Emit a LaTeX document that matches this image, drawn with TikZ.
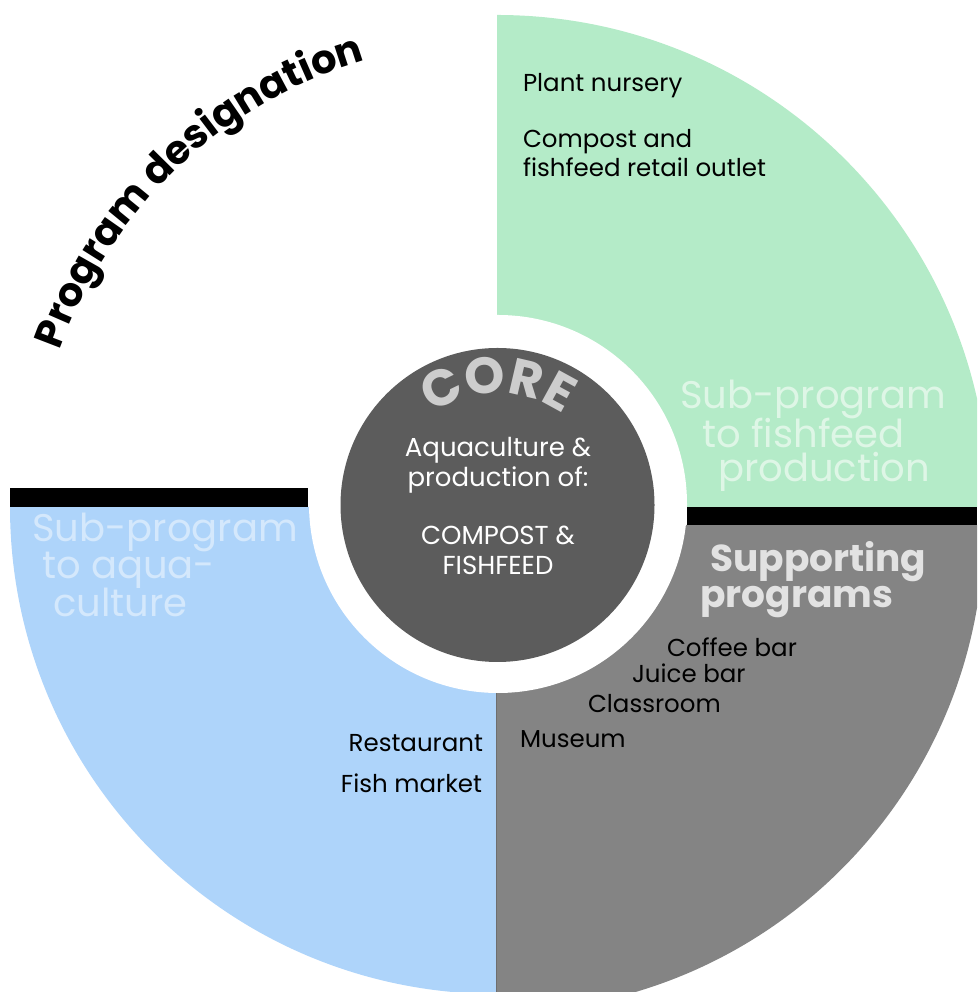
\documentclass[tikz,border=0pt]{standalone}
\usepackage{fontspec}
\setmainfont{Poppins}
\usetikzlibrary{decorations.text}
\definecolor{gfill}{RGB}{180,235,200}
\definecolor{bfill}{RGB}{174,212,250}
\definecolor{sfill}{RGB}{132,132,132}
\definecolor{corefill}{RGB}{92,92,92}
\definecolor{coretxt}{RGB}{205,205,205}
\definecolor{gtxt}{RGB}{222,246,230}
\definecolor{btxt}{RGB}{212,232,252}
\definecolor{stxt}{RGB}{226,226,226}
\tikzset{
  lbl/.style={inner sep=0pt, outer sep=0pt, text=black, font=\fontsize{24.5}{24.5}\selectfont},
  corelbl/.style={inner sep=0pt, text=white, font=\fontsize{26}{26}\selectfont, anchor=base},
  subttl/.style={inner sep=0pt, anchor=base west, font=\fontsize{38.5}{38.5}\selectfont},
  supttl/.style={inner sep=0pt, anchor=base west, text=stxt, font=\bfseries\fontsize{37.5}{37.5}\selectfont},
  bar/.style={fill=black}
}
\begin{document}
\begin{tikzpicture}[x=1pt,y=1pt]
\useasboundingbox (0,0) rectangle (977,992);
\clip (0,0) rectangle (977,992);
% quarters
\fill[gfill] (497,485) -- ++(0:492) arc (0:90:492) -- cycle;
\fill[bfill] (497,485) -- ++(180:487) arc (180:270:487) -- cycle;
\fill[sfill] (497,467) -- ++(270:487) arc (270:360:487) -- cycle;
\draw[line width=1.2pt, draw={rgb,255:red,110;green,110;blue,110}] (496.5,0) -- (496.5,467);
% bars
\fill[bar] (10,485) rectangle (308,504);
\fill[bar] (687,467) rectangle (977,485);
% white ring and core
\fill[white] (498,488) circle (189);
\node[circle, fill=corefill, minimum size=314pt, inner sep=0pt] (core) at (497.5,487) {};
% CORE curved
\path[decorate, decoration={text along path, text align=center,
  text={|\color{coretxt}\bfseries\fontsize{51}{51}\selectfont|CORE}}]
  (497.5,487) ++(135:112) arc (135:45:112);
% Program designation curved
\path[decorate, decoration={text along path, text align=center,
  text={|\bfseries\fontsize{40}{40}\selectfont|Program designation}}]
  (497,487) ++(163:464) arc (163:104:464);
% core text
\node[corelbl] (c1) at (498,535) {Aquaculture \&};
\node[corelbl] (c2) at (498,505) {production of:};
\node[corelbl] (c3) at (498,447) {COMPOST \&};
\node[corelbl] (c4) at (498,417) {FISHFEED};
% green texts
\node[lbl, anchor=base west] (g1) at (523,900) {Plant nursery};
\node[lbl, anchor=base west] (g2) at (523,844) {Compost and};
\node[lbl, anchor=base west] (g3) at (523,815) {fishfeed retail outlet};
\node[subttl, text=gtxt] (gs1) at (680,583) {Sub-program};
\node[subttl, text=gtxt] (gs2) at (702,544) {to fishfeed};
\node[subttl, text=gtxt] (gs3) at (718,510) {production};
% blue texts
\node[subttl, text=btxt] (bs1) at (32,450) {Sub-program};
\node[subttl, text=btxt] (bs2) at (42,413) {to aqua-};
\node[subttl, text=btxt] (bs3) at (53,375) {culture};
\node[lbl, anchor=base east] (b1) at (483,240) {Restaurant};
\node[lbl, anchor=base east] (b2) at (482,199) {Fish market};
% grey texts
\node[supttl] (s1) at (710,420) {Supporting};
\node[supttl] (s2) at (700,384) {programs};
\node[lbl, anchor=base west] (s3) at (667,335) {Coffee bar};
\node[lbl, anchor=base west] (s4) at (632,309) {Juice bar};
\node[lbl, anchor=base west] (s5) at (588,279) {Classroom};
\node[lbl, anchor=base west] (s6) at (520,244) {Museum};
\end{tikzpicture}
\end{document}
